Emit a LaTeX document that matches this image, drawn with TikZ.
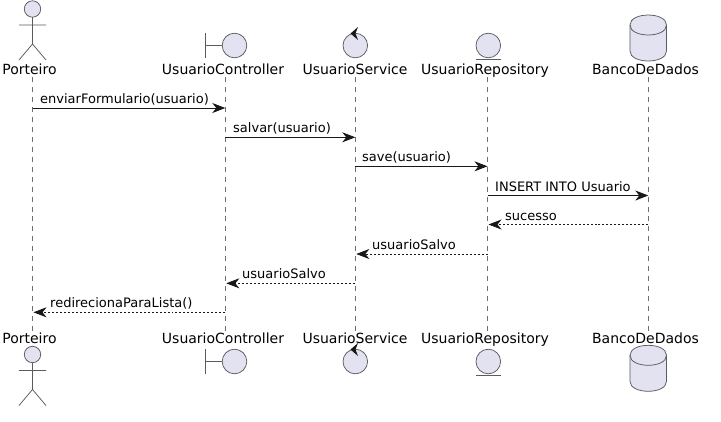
\documentclass[tikz,border=0pt]{standalone}
\usepackage{fontspec}
\setmainfont{DejaVu Sans}
\usetikzlibrary{arrows.meta}
\definecolor{partfill}{HTML}{E2E2F0}
\definecolor{partline}{HTML}{5A5A60}
\definecolor{lifecol}{HTML}{6E6E72}
\definecolor{msgcol}{HTML}{181818}
\tikzset{
  shapeline/.style={draw=partline,line width=0.75pt},
  shapefill/.style={shapeline,fill=partfill},
  lifeline/.style={draw=lifecol,line width=0.6pt,dash pattern=on 5pt off 5pt},
  ptext/.style={inner sep=0pt,font=\fontsize{14bp}{16bp}\selectfont,text=black,anchor=base},
  mtext/.style={inner sep=0pt,font=\fontsize{13bp}{15bp}\selectfont,text=black,anchor=base west},
  tip/.style={-{Stealth[length=13bp,width=10bp,inset=4bp]}},
  syncmsg/.style={draw=msgcol,line width=0.85pt,tip},
  retmsg/.style={draw=msgcol,line width=0.75pt,dash pattern=on 2pt off 2pt,tip},
}
\begin{document}
\begin{tikzpicture}[x=1bp,y=-1bp]
\useasboundingbox (0,0) rectangle (721,421);
\coordinate (aT) at (32.5,77); \coordinate (aB) at (32.5,333);
\coordinate (cT) at (225.3,77); \coordinate (cB) at (225.3,333);
\coordinate (sT) at (355.3,77); \coordinate (sB) at (355.3,333);
\coordinate (rT) at (487.5,77); \coordinate (rB) at (487.5,333);
\coordinate (dT) at (648.3,77); \coordinate (dB) at (648.3,333);
\draw[lifeline] (aT) -- (aB);
\draw[lifeline] (cT) -- (cB);
\draw[lifeline] (sT) -- (sB);
\draw[lifeline] (rT) -- (rB);
\draw[lifeline] (dT) -- (dB);
\foreach \y/\s in {74/t,343/b}{
  \node[ptext] (pL\s) at (29.5,\y) {Porteiro};
  \node[ptext] (cL\s) at (223,\y) {UsuarioController};
  \node[ptext] (sL\s) at (355,\y) {UsuarioService};
  \node[ptext] (rL\s) at (485,\y) {UsuarioRepository};
  \node[ptext] (dL\s) at (645.5,\y) {BancoDeDados};
}
% actors
\foreach \dy in {0,345.5}{
  \begin{scope}[yshift=-\dy bp]
    \draw[shapefill] (32.5,9) circle[radius=8.2];
    \draw[shapeline] (32.5,17.2) -- (32.5,44) (19,25) -- (46,25) (19,60) -- (32.5,44) -- (46,60);
  \end{scope}
}
\foreach \dy in {0,316}{
  \begin{scope}[yshift=-\dy bp]
    \draw[shapeline] (205.5,33) -- (205.5,58) (205.5,45.5) -- (222,45.5);
    \draw[shapefill] (234.5,45.5) circle[radius=12.3];
    \draw[shapefill] (355.3,45.5) circle[radius=12.3];
    \fill[msgcol] (350.5,33.5) -- (358,27) -- (355.5,33.5) -- (358,40) -- cycle;
    \draw[shapefill] (488.3,45.5) circle[radius=12.3];
    \draw[shapeline] (476,59.5) -- (500.8,59.5);
  \end{scope}
}
% databases
\foreach \t in {15,345.3}{
  \begin{scope}[yshift=-\t bp]
    \draw[shapefill] (630,10) .. controls (630,-3.3) and (666.5,-3.3) .. (666.5,10)
       -- (666.5,36) .. controls (666.5,49.3) and (630,49.3) .. (630,36) -- cycle;
    \draw[shapeline] (630,10) .. controls (630,23.3) and (666.5,23.3) .. (666.5,10);
  \end{scope}
}
\coordinate (m1a) at (32.5,108); \coordinate (m1b) at (225.3,108);
\coordinate (m2a) at (225.3,137.3); \coordinate (m2b) at (355.3,137.3);
\coordinate (m3a) at (355.3,166.3); \coordinate (m3b) at (487.5,166.3);
\coordinate (m4a) at (487.5,195.5); \coordinate (m4b) at (648.3,195.5);
\coordinate (m5a) at (648.3,224.5); \coordinate (m5b) at (488.5,224.5);
\coordinate (m6a) at (487.5,254); \coordinate (m6b) at (356.3,254);
\coordinate (m7a) at (355.3,283.3); \coordinate (m7b) at (226.3,283.3);
\coordinate (m8a) at (225.3,312.3); \coordinate (m8b) at (33.5,312.3);
\draw[syncmsg] (m1a) -- (m1b);
\draw[syncmsg] (m2a) -- (m2b);
\draw[syncmsg] (m3a) -- (m3b);
\draw[syncmsg] (m4a) -- (m4b);
\draw[retmsg] (m5a) -- (m5b);
\draw[retmsg] (m6a) -- (m6b);
\draw[retmsg] (m7a) -- (m7b);
\draw[retmsg] (m8a) -- (m8b);
\node[mtext] (t1) at (40,103) {enviarFormulario(usuario)};
\node[mtext] (t2) at (233,132) {salvar(usuario)};
\node[mtext] (t3) at (362,161) {save(usuario)};
\node[mtext] (t4) at (495,191) {INSERT INTO Usuario};
\node[mtext] (t5) at (505,220) {sucesso};
\node[mtext] (t6) at (372,249) {usuarioSalvo};
\node[mtext] (t7) at (242,278) {usuarioSalvo};
\node[mtext] (t8) at (50,307) {redirecionaParaLista()};
\end{tikzpicture}
\end{document}
